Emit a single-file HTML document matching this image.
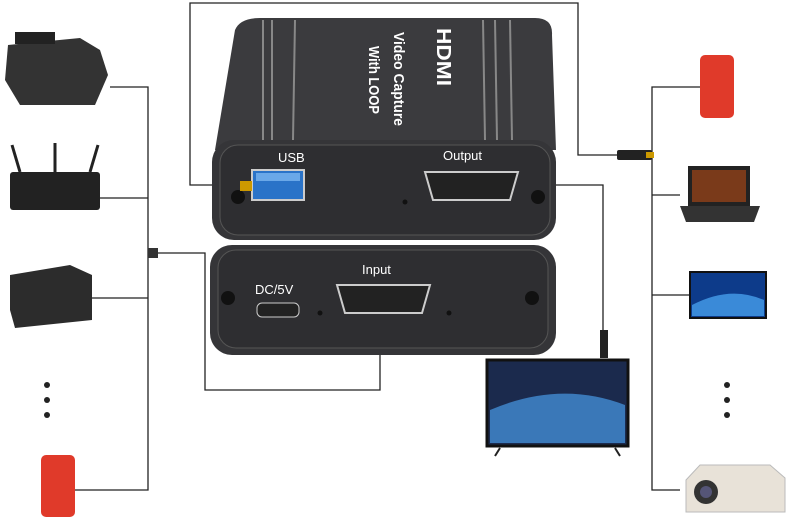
<!DOCTYPE html>
<html><head><style>
body{margin:0;background:#fff;width:786px;height:524px;overflow:hidden;font-family:"Liberation Sans",sans-serif}
</style></head><body>
<svg width="786" height="524" viewBox="0 0 786 524" xmlns="http://www.w3.org/2000/svg">
<g fill="none" stroke="#222" stroke-width="1.3">
<path d="M110 87H148V490H75M100 198H148M90 298H148"/>
<path d="M148 253H205V390H380V320"/>
<path d="M245 185H190V3H578V155H625"/>
<path d="M540 185H603V340"/>
<path d="M700 87H652V490H680M680 195H652M690 295H652"/>
</g>
<path d="M235 30Q240 18 260 18H535Q553 18 552 35L556 150H215Z" fill="#3b3b3e"/>
<g stroke="#888" stroke-width="2"><line x1="263" y1="20" x2="263" y2="140"/><line x1="272" y1="20" x2="272" y2="140"/><line x1="295" y1="20" x2="293" y2="140"/><line x1="483" y1="20" x2="485" y2="140"/><line x1="495" y1="20" x2="497" y2="140"/><line x1="510" y1="20" x2="512" y2="140"/></g>
<g fill="#fff" font-weight="bold">
<text transform="translate(437,28) rotate(90)" font-size="20" textLength="58" lengthAdjust="spacingAndGlyphs">HDMI</text>
<text transform="translate(394,32) rotate(90)" font-size="15" textLength="94" lengthAdjust="spacingAndGlyphs">Video Capture</text>
<text transform="translate(369,46) rotate(90)" font-size="15" textLength="68" lengthAdjust="spacingAndGlyphs">With LOOP</text>
</g>
<rect x="212" y="140" width="344" height="100" rx="22" fill="#353538"/>
<rect x="220" y="145" width="330" height="90" rx="18" fill="#2e2e31" stroke="#555"/>
<rect x="210" y="245" width="346" height="110" rx="22" fill="#353538"/>
<rect x="218" y="250" width="330" height="98" rx="18" fill="#2e2e31" stroke="#555"/>
<g fill="#fff" font-size="13">
<text x="278" y="162">USB</text><text x="443" y="160">Output</text>
<text x="362" y="274">Input</text><text x="255" y="294">DC/5V</text>
</g>
<rect x="252" y="170" width="52" height="30" fill="#2a73c8" stroke="#ccc" stroke-width="2"/>
<rect x="256" y="173" width="44" height="8" fill="#6aa8e8"/>
<path d="M425 172H518L510 200H433Z" fill="#222" stroke="#ccc" stroke-width="2"/>
<path d="M337 285H430L422 313H345Z" fill="#222" stroke="#ccc" stroke-width="2"/>
<rect x="257" y="303" width="42" height="14" rx="5" fill="#222" stroke="#ccc"/>
<g fill="#111"><circle cx="238" cy="197" r="7"/><circle cx="538" cy="197" r="7"/><circle cx="228" cy="298" r="7"/><circle cx="532" cy="298" r="7"/><circle cx="405" cy="202" r="2.5"/><circle cx="320" cy="313" r="2.5"/><circle cx="449" cy="313" r="2.5"/></g>
<rect x="240" y="181" width="12" height="10" fill="#c90"/>
<rect x="617" y="150" width="35" height="10" rx="2" fill="#222"/><rect x="646" y="152" width="8" height="6" fill="#c90"/>
<rect x="148" y="248" width="10" height="10" fill="#333"/>
<rect x="600" y="330" width="8" height="28" fill="#222"/>
<rect x="487" y="360" width="141" height="86" fill="#1b2a4d" stroke="#111" stroke-width="3"/>
<path d="M490 410Q560 380 625 405V443H490Z" fill="#3a78b8"/>
<path d="M500 448L495 456M615 448L620 456" stroke="#222" stroke-width="2"/>
<path d="M8 45L80 38 100 50 108 75 95 105H20L5 80Z" fill="#333"/>
<rect x="15" y="32" width="40" height="12" fill="#222"/>
<rect x="10" y="172" width="90" height="38" rx="3" fill="#222"/>
<g stroke="#222" stroke-width="3"><line x1="20" y1="172" x2="12" y2="145"/><line x1="55" y1="172" x2="55" y2="143"/><line x1="90" y1="172" x2="98" y2="145"/></g>
<path d="M10 275L70 265 92 275V320L15 328 10 310Z" fill="#2c2c2c"/>
<g fill="#222"><circle cx="47" cy="385" r="3"/><circle cx="47" cy="400" r="3"/><circle cx="47" cy="415" r="3"/><circle cx="727" cy="385" r="3"/><circle cx="727" cy="400" r="3"/><circle cx="727" cy="415" r="3"/></g>
<rect x="41" y="455" width="34" height="62" rx="5" fill="#e03a2a"/>
<rect x="700" y="55" width="34" height="63" rx="5" fill="#e03a2a"/>
<rect x="688" y="166" width="62" height="40" fill="#222"/><rect x="692" y="170" width="54" height="32" fill="#7a3a1a"/>
<path d="M680 206H760L754 222H686Z" fill="#333"/>
<rect x="690" y="272" width="76" height="46" fill="#0d3b8a" stroke="#111" stroke-width="2"/>
<path d="M692 305Q730 285 764 300V316H692Z" fill="#3a8ad8"/>
<path d="M686 480L700 465H770L785 478V512H686Z" fill="#e8e2d8" stroke="#bbb"/>
<circle cx="706" cy="492" r="12" fill="#333"/><circle cx="706" cy="492" r="6" fill="#557"/>
</svg>
</body></html>
